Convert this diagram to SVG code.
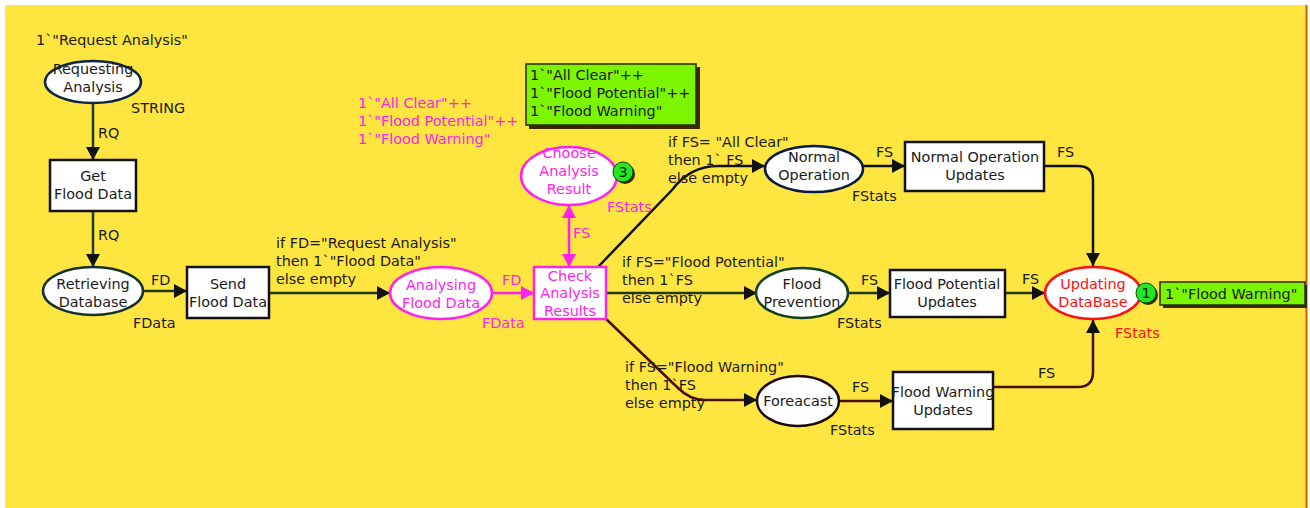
<svg xmlns="http://www.w3.org/2000/svg" width="1310" height="508" viewBox="0 0 1310 508">
<style>
text{font-family:"DejaVu Sans","Liberation Sans",sans-serif;font-size:14.4px;fill:#1a1a1a}
.c{text-anchor:middle}
.m{fill:#ff22ee}
.r{fill:#ff1010}
.arc{fill:none;stroke-width:2.5}
.node{fill:#fff;stroke-width:2.5}
.blk{stroke:#111}
.dg{stroke:#1f3a14}
.dr{stroke:#4a0c00}
.mg{stroke:#ff22ee}
.tok{fill:#22e822;stroke:#0a4a0a;stroke-width:1}
.tbox{fill:#7cf500;stroke:#2a2a00;stroke-width:1.5}
</style>
<defs>
<marker id="ah" markerUnits="userSpaceOnUse" markerWidth="14" markerHeight="14" refX="13" refY="7" orient="auto"><path d="M0,0 L13,7 L0,14 z" fill="#111"/></marker>
<marker id="ahm" markerUnits="userSpaceOnUse" markerWidth="14" markerHeight="14" refX="13" refY="7" orient="auto-start-reverse"><path d="M0,0 L13,7 L0,14 z" fill="#ff22ee"/></marker>
</defs>
<rect x="5" y="5" width="1301" height="503" fill="#ffe53f"/>
<line x1="1306.5" y1="5" x2="1306.5" y2="508" stroke="#d85a00" stroke-width="2"/>

<g id="connectors">
<path class="arc dg" d="M93,104 L93,160" marker-end="url(#ah)"/>
<path class="arc dg" d="M93,212 L93,267" marker-end="url(#ah)"/>
<path class="arc dg" d="M143,291 L187,291" marker-end="url(#ah)"/>
<path class="arc dg" d="M269,293 L390,293" marker-end="url(#ah)"/>
<path class="arc mg" d="M493,293 L534,293" marker-end="url(#ahm)"/>
<path class="arc mg" d="M569,205 L569,267" marker-start="url(#ahm)" marker-end="url(#ahm)"/>
<path class="arc blk" d="M598,267 L672,190 Q690,166 718,166 L765,166" marker-end="url(#ah)"/>
<path class="arc dg" d="M606,293 L757,293" marker-end="url(#ah)"/>
<path class="arc dr" d="M604,317 L678,388 Q690,400 705,400 L757,400" marker-end="url(#ah)"/>
<path class="arc blk" d="M863,166 L905,166" marker-end="url(#ah)"/>
<path class="arc dg" d="M848,293 L890,293" marker-end="url(#ah)"/>
<path class="arc dr" d="M840,401 L893,401" marker-end="url(#ah)"/>
<path class="arc blk" d="M1044,166 L1078,166 Q1093,166 1093,181 L1093,266" marker-end="url(#ah)"/>
<path class="arc dg" d="M1005,293 L1045,293" marker-end="url(#ah)"/>
<path class="arc dr" d="M993,387 L1078,387 Q1093,387 1093,372 L1093,320" marker-end="url(#ah)"/>
<text x="98" y="138">RQ</text>
<text x="98" y="240">RQ</text>
<text x="151" y="285">FD</text>
<text x="276" y="248">if FD="Request Analysis"</text>
<text x="276" y="266">then 1`"Flood Data"</text>
<text x="276" y="284">else empty</text>
<text class="m" x="502" y="285">FD</text>
<text class="m" x="573" y="238">FS</text>
<text x="668" y="147">if FS= "All Clear"</text>
<text x="668" y="165">then 1` FS</text>
<text x="668" y="183">else empty</text>
<text x="622" y="267">if FS="Flood Potential"</text>
<text x="622" y="285">then 1`FS</text>
<text x="622" y="303">else empty</text>
<text x="625" y="372">if FS="Flood Warning"</text>
<text x="625" y="390">then 1`FS</text>
<text x="625" y="408">else empty</text>
<text x="876" y="157">FS</text>
<text x="861" y="285">FS</text>
<text x="852" y="392">FS</text>
<text x="1057" y="157">FS</text>
<text x="1022" y="284">FS</text>
<text x="1038" y="378">FS</text>
</g>

<g id="requesting-analysis">
<text x="36" y="45">1`"Request Analysis"</text>
<ellipse class="node" cx="93" cy="82" rx="48" ry="21" stroke="#0f2640"/>
<text class="c" x="93" y="74" fill="#1a3050">Requesting</text>
<text class="c" x="93" y="92" fill="#1a3050">Analysis</text>
<text x="131" y="113">STRING</text>
</g>

<g id="get-flood-data">
<rect class="node" x="50" y="160" width="86" height="51" stroke="#111"/>
<text class="c" x="93" y="181">Get</text>
<text class="c" x="93" y="199">Flood Data</text>
</g>

<g id="retrieving-database">
<ellipse class="node" cx="93" cy="291" rx="50" ry="24" stroke="#143228"/>
<text class="c" x="93" y="289" fill="#1a3040">Retrieving</text>
<text class="c" x="93" y="307" fill="#1a3040">Database</text>
<text x="133" y="328">FData</text>
</g>

<g id="send-flood-data">
<rect class="node" x="187" y="267" width="82" height="51" stroke="#111"/>
<text class="c" x="228" y="289">Send</text>
<text class="c" x="228" y="307">Flood Data</text>
</g>

<g id="analysing-flood-data">
<ellipse class="node" cx="441" cy="293" rx="51" ry="26" stroke="#ff22ee"/>
<text class="c m" x="441" y="290">Analysing</text>
<text class="c m" x="441" y="308">Flood Data</text>
<text class="m" x="482" y="328">FData</text>
</g>

<g id="check-analysis-results">
<rect class="node" x="534" y="267" width="72" height="52" stroke="#ff22ee"/>
<text class="c m" x="570" y="281">Check</text>
<text class="c m" x="570" y="298">Analysis</text>
<text class="c m" x="570" y="316">Results</text>
</g>

<g id="choose-analysis-result">
<text class="m" x="358" y="108">1`"All Clear"++</text>
<text class="m" x="358" y="126">1`"Flood Potential"++</text>
<text class="m" x="358" y="144">1`"Flood Warning"</text>
<rect x="529" y="67" width="171" height="62" fill="#3a2800"/>
<rect class="tbox" x="526" y="64" width="170" height="61"/>
<text x="530" y="80">1`"All Clear"++</text>
<text x="530" y="98">1`"Flood Potential"++</text>
<text x="530" y="116">1`"Flood Warning"</text>
<ellipse class="node" cx="569" cy="176" rx="48" ry="29" stroke="#ff22ee"/>
<text class="c m" x="569" y="158">Choose</text>
<text class="c m" x="569" y="176">Analysis</text>
<text class="c m" x="569" y="194">Result</text>
<circle cx="625" cy="174" r="10" fill="#3a2800"/>
<circle class="tok" cx="623" cy="172" r="10"/>
<text class="c" x="623" y="177">3</text>
<text class="m" x="607" y="212">FStats</text>
</g>

<g id="normal-operation">
<ellipse class="node" cx="814" cy="169" rx="49" ry="23" stroke="#0a1a40"/>
<text class="c" x="814" y="162" fill="#1a2550">Normal</text>
<text class="c" x="814" y="180" fill="#1a2550">Operation</text>
<text x="852" y="201">FStats</text>
</g>

<g id="flood-prevention">
<ellipse class="node" cx="802" cy="293" rx="46" ry="25" stroke="#14401a"/>
<text class="c" x="802" y="289" fill="#1a3a20">Flood</text>
<text class="c" x="802" y="307" fill="#1a3a20">Prevention</text>
<text x="837" y="328">FStats</text>
</g>

<g id="foreacast">
<ellipse class="node" cx="798" cy="401" rx="41" ry="25" stroke="#1a0a0a"/>
<text class="c" x="798" y="406" fill="#1a0a30">Foreacast</text>
<text x="830" y="435">FStats</text>
</g>

<g id="normal-operation-updates">
<rect class="node" x="905" y="142" width="139" height="49" stroke="#111"/>
<text class="c" x="975" y="162" fill="#1a2550">Normal Operation</text>
<text class="c" x="975" y="180" fill="#1a2550">Updates</text>
</g>

<g id="flood-potential-updates">
<rect class="node" x="890" y="270" width="115" height="47" stroke="#111"/>
<text class="c" x="947" y="289" fill="#1a3a20">Flood Potential</text>
<text class="c" x="947" y="307" fill="#1a3a20">Updates</text>
</g>

<g id="flood-warning-updates">
<rect class="node" x="893" y="372" width="100" height="57" stroke="#111"/>
<text class="c" x="943" y="397" fill="#400040">Flood Warning</text>
<text class="c" x="943" y="415" fill="#400040">Updates</text>
</g>

<g id="updating-database">
<ellipse class="node" cx="1093" cy="293" rx="48" ry="26" stroke="#ff1010"/>
<text class="c r" x="1093" y="289">Updating</text>
<text class="c r" x="1093" y="307">DataBase</text>
<circle cx="1148" cy="295" r="10" fill="#3a2800"/>
<circle class="tok" cx="1146" cy="293" r="10"/>
<text class="c" x="1146" y="298">1</text>
<rect x="1163" y="285" width="144" height="23" fill="#3a2800"/>
<rect class="tbox" x="1160" y="282" width="145" height="23"/>
<text x="1165" y="299">1`"Flood Warning"</text>
<text class="r" x="1115" y="338">FStats</text>
</g>
</svg>
